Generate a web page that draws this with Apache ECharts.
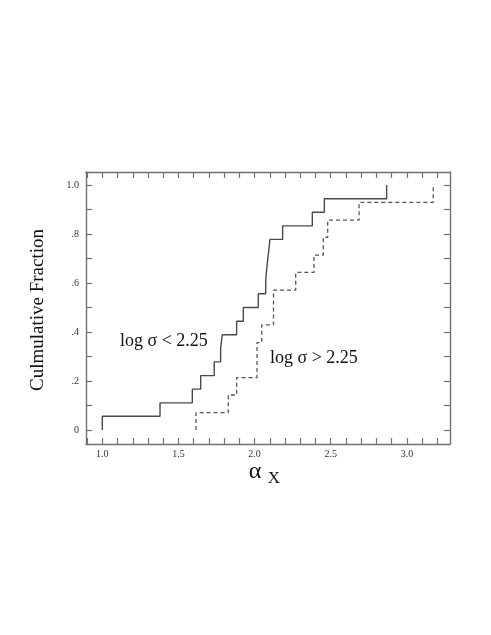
<!DOCTYPE html>
<html>
<head>
<meta charset="utf-8">
<script src="https://cdn.jsdelivr.net/npm/echarts@6/dist/echarts.min.js"></script>
<style>html,body{margin:0;padding:0;background:#fff;}#c{width:491px;height:635px;}</style>
</head>
<body>
<div id="c"></div>
<script>
// Low dispersion sample (log sigma < 2.25): step locations and cumulative fractions
var lowX = [1.0, 1.379, 1.591, 1.646, 1.735, 1.777, 1.788, 1.882, 1.926, 2.024, 2.073, 2.081, 2.091, 2.101, 2.184, 2.379, 2.458, 2.867];
var lowY = [0.056, 0.111, 0.167, 0.222, 0.278, 0.333, 0.389, 0.444, 0.500, 0.556, 0.611, 0.667, 0.722, 0.778, 0.833, 0.889, 0.944, 1.000];
// High dispersion sample (log sigma > 2.25)
var highX = [1.615, 1.827, 1.882, 2.016, 2.016, 2.047, 2.124, 2.124, 2.270, 2.390, 2.451, 2.480, 2.686, 3.173];
var highY = [0.071, 0.143, 0.214, 0.286, 0.357, 0.429, 0.500, 0.571, 0.643, 0.714, 0.786, 0.857, 0.929, 1.000];
// Ticks
var xTicks = [0.9, 1.0, 1.1, 1.2, 1.3, 1.4, 1.5, 1.6, 1.7, 1.8, 1.9, 2.0, 2.1, 2.2, 2.3, 2.4, 2.5, 2.6, 2.7, 2.8, 2.9, 3.0, 3.1, 3.2];
var xLabels = [1.0, 1.5, 2.0, 2.5, 3.0];
var yTicks = [0, 0.1, 0.2, 0.3, 0.4, 0.5, 0.6, 0.7, 0.8, 0.9, 1.0];
var yLabels = [0, 0.2, 0.4, 0.6, 0.8, 1.0];
var yLabelText = ['0', '.2', '.4', '.6', '.8', '1.0'];

function stepData(xs, ys) {
  var d = [[xs[0], 0]];
  for (var i = 0; i < xs.length; i++) d.push([xs[i], ys[i]]);
  return d;
}

var FONT = 'Liberation Serif';
var frame = {show: true, onZero: false, lineStyle: {color: '#707070', width: 1.4}};
var tick = {show: true, inside: true, length: 6, lineStyle: {color: '#707070', width: 1.2}};

function xAxis(pos, labels) {
  return {
    type: 'value', position: pos, min: 0.893, max: 3.283,
    axisLine: frame, splitLine: {show: false},
    axisTick: Object.assign({}, tick, {customValues: xTicks}),
    axisLabel: labels ? {show: true, customValues: xLabels, fontFamily: FONT, fontSize: 10, color: '#333', margin: 5,
      formatter: function (v) { return v.toFixed(1); }} : {show: false}
  };
}
function yAxis(pos, labels) {
  return {
    type: 'value', position: pos, min: -0.057, max: 1.053,
    axisLine: frame, splitLine: {show: false},
    axisTick: Object.assign({}, tick, {customValues: yTicks}),
    axisLabel: labels ? {show: true, customValues: yLabels, fontFamily: FONT, fontSize: 10, color: '#333', margin: 7,
      formatter: function (v) { var i = yLabels.indexOf(Math.round(v * 10) / 10); return i >= 0 ? yLabelText[i] : ''; }} : {show: false}
  };
}

var chart = echarts.init(document.getElementById('c'), null, {renderer: 'canvas'});
chart.setOption({
  backgroundColor: '#fff',
  animation: false,
  grid: {left: 86, right: 41, top: 172, bottom: 191},
  xAxis: [xAxis('bottom', true), xAxis('top', false)],
  yAxis: [yAxis('left', true), yAxis('right', false)],
  series: [
    {type: 'line', step: 'end', showSymbol: false, data: stepData(lowX, lowY),
      lineStyle: {color: '#4a4a4a', width: 1.4}, xAxisIndex: 0, yAxisIndex: 0},
    {type: 'line', step: 'end', showSymbol: false, data: stepData(highX, highY),
      lineStyle: {color: '#555', width: 1.3, type: [4, 3]}, xAxisIndex: 0, yAxisIndex: 0}
  ],
  graphic: [
    {type: 'text', left: 120, top: 332, style: {text: 'log σ < 2.25', font: '18px "Liberation Serif"', fill: '#111'}},
    {type: 'text', left: 270, top: 349, style: {text: 'log σ > 2.25', font: '18px "Liberation Serif"', fill: '#111'}},
    {type: 'text', x: 38, y: 310, rotation: Math.PI / 2,
      style: {text: 'Culmulative Fraction', font: '19px "Liberation Serif"', fill: '#111', align: 'center', verticalAlign: 'middle'}},
    {type: 'text', x: 255, y: 472, style: {text: 'α', font: '24px "Liberation Serif"', fill: '#111', align: 'center', verticalAlign: 'middle'}},
    {type: 'text', x: 274, y: 479, style: {text: 'X', font: '17px "Liberation Serif"', fill: '#111', align: 'center', verticalAlign: 'middle'}}
  ]
});
</script>
</body>
</html>
